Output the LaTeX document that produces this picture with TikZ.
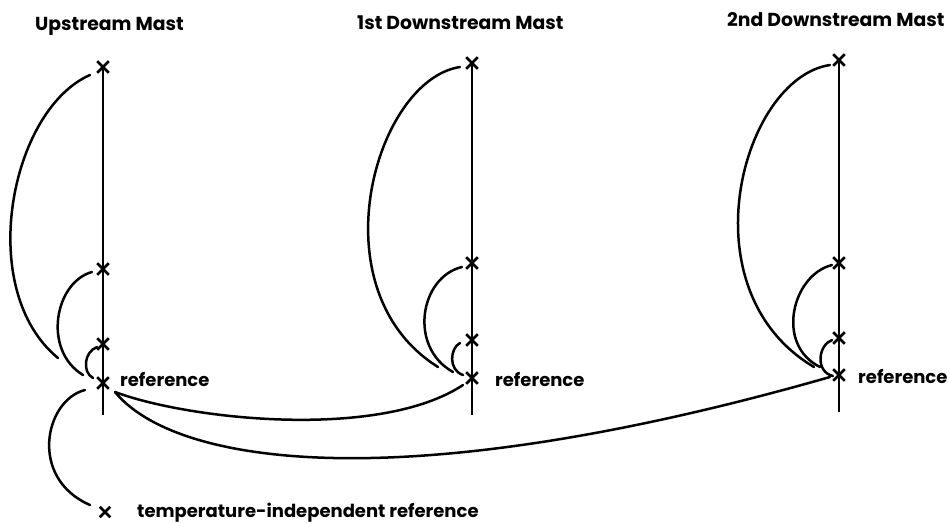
\documentclass[tikz,border=0pt]{standalone}
\usepackage{fontspec}
\setmainfont{Poppins}
\usetikzlibrary{shapes.misc}
\begin{document}
\begin{tikzpicture}[x=1pt,y=-1pt,
  mastline/.style={line width=2.6pt},
  conn/.style={line width=2.5pt, line cap=round},
  xm/.style={cross out, draw, minimum size=9pt, inner sep=0pt, line width=2.6pt},
  xs/.style={cross out, draw, minimum size=8pt, inner sep=0pt, line width=2.5pt},
  lbl/.style={anchor=base west, inner sep=0pt, font=\fontsize{18}{20}\selectfont\bfseries},
  ttl/.style={anchor=base west, inner sep=0pt, font=\fontsize{18.8}{21}\selectfont\bfseries}]
\useasboundingbox (0,0) rectangle (950,522);
% titles
\node[ttl] (t1) at (35,30) {Upstream Mast};
\node[ttl] (t2) at (357,29) {1st Downstream Mast};
\node[ttl] (t3) at (727,27) {2nd Downstream Mast};
% Upstream mast
\node[xm] (u0) at (103,67) {};
\node[xm] (u1) at (103,269) {};
\node[xm] (u2) at (103,344) {};
\node[xm] (u3) at (103,383) {};
\coordinate (ub) at (103,415);
\draw[mastline] (u0.center) -- (ub);
% 1st downstream mast
\node[xm] (d0) at (472,63) {};
\node[xm] (d1) at (472,263) {};
\node[xm] (d2) at (472,340) {};
\node[xm] (d3) at (472,378) {};
\coordinate (db) at (472,415);
\draw[mastline] (d0.center) -- (db);
% 2nd downstream mast
\node[xm] (s0) at (839,60) {};
\node[xm] (s1) at (839,263) {};
\node[xm] (s2) at (839,338) {};
\node[xm] (s3) at (839,375) {};
\coordinate (sb) at (839,412);
\draw[mastline] (s0.center) -- (sb);
% reference labels
\node[lbl] (r1) at (120,386) {reference};
\node[lbl] (r2) at (495,386) {reference};
\node[lbl] (r3) at (858,383) {reference};
% temperature-independent reference
\node[xs] (ti) at (105,512) {};
\node[lbl] (tl) at (137,517) {temperature-independent reference};
% arc end points, upstream
\coordinate (ua0) at (90,75);   \coordinate (ua0e) at (58,358);
\coordinate (ua1) at (92,272);  \coordinate (ua1e) at (83,375);
\coordinate (ua2) at (97,347);  \coordinate (ua2e) at (93,378);
\coordinate (ua3) at (85,390);  \coordinate (ua3e) at (90,505);
\draw[conn] (ua0) .. controls (10,110) and (-25,290) .. (ua0e);
\draw[conn] (ua1) .. controls (55,282) and (42,350) .. (ua1e);
\draw[conn] (ua2) .. controls (84,352) and (82,372) .. (ua2e);
\draw[conn] (ua3) .. controls (45,400) and (28,478) .. (ua3e);
% arcs, 1st downstream
\coordinate (da0) at (460,67);  \coordinate (da0e) at (438,367);
\coordinate (da1) at (462,267); \coordinate (da1e) at (453,372);
\coordinate (da2) at (460,343); \coordinate (da2e) at (463,375);
\draw[conn] (da0) .. controls (375,80) and (315,290) .. (da0e);
\draw[conn] (da1) .. controls (420,277) and (408,347) .. (da1e);
\draw[conn] (da2) .. controls (450,348) and (448,370) .. (da2e);
% arcs, 2nd downstream
\coordinate (sa0) at (830,65);  \coordinate (sa0e) at (814,367);
\coordinate (sa1) at (832,265); \coordinate (sa1e) at (820,367);
\coordinate (sa2) at (832,340); \coordinate (sa2e) at (833,376);
\draw[conn] (sa0) .. controls (742,78) and (684,290) .. (sa0e);
\draw[conn] (sa1) .. controls (792,275) and (775,345) .. (sa1e);
\draw[conn] (sa2) .. controls (818,345) and (815,372) .. (sa2e);
% long links between references
\coordinate (lk) at (115,392);
\coordinate (lk2) at (463,385);
\coordinate (lk3) at (830,377);
\draw[conn] (lk) .. controls (190,420) and (380,440) .. (lk2);
\draw[conn] (lk) .. controls (175,465) and (400,500) .. (lk3);
\end{tikzpicture}
\end{document}
